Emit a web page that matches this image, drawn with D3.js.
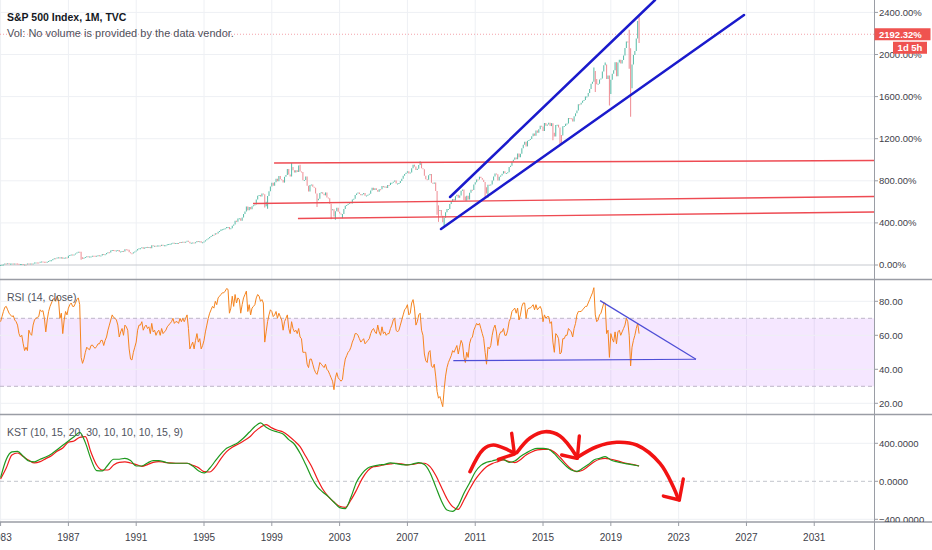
<!DOCTYPE html>
<html lang="en">
<head>
<meta charset="UTF-8">
<title>S&amp;P 500 Index, 1M, TVC</title>
<script src="https://d3js.org/d3.v7.min.js"></script>
<style>
  body { margin: 0; background: #fff; }
  svg { display: block; font-family: "Liberation Sans", Arial, sans-serif; }
  .tick-label { font-size: 9.5px; fill: #3e414a; }
  .time-label { font-size: 10px; fill: #3e414a; }
  .pane-title { font-size: 10.5px; fill: #50535e; }
</style>
</head>
<body>
<div id="chart"></div>
<script>
// ---- data ----
const yearTicks = [1983, 1987, 1991, 1995, 1999, 2003, 2007, 2011, 2015, 2019, 2023, 2027, 2031];
const priceTicks = [0, 400, 800, 1200, 1600, 2000, 2400];
const rsiTicks = [20, 40, 60, 80];
const kstTicks = [-400, 0, 400];

const firstOpen = 140.6;     // open of the first monthly bar
const baseClose = 145.3;     // close the % scale is measured from
const lastChange = 2192.32;  // last value shown on the scale

// monthly closes, Jan 1983 .. Sep 2020
const closes = [
  145.3, 148.1, 153.0, 164.4, 162.4, 168.1, 162.6, 164.4, 166.1, 163.6, 166.4, 164.9,
  163.4, 157.1, 159.2, 160.1, 150.6, 153.2, 150.7, 166.7, 166.1, 166.1, 163.6, 167.2,
  179.6, 181.2, 180.7, 179.8, 189.6, 191.9, 190.9, 188.6, 182.1, 189.8, 202.2, 211.3,
  211.8, 226.9, 238.9, 235.5, 247.4, 250.8, 236.1, 252.9, 231.3, 244.0, 249.2, 242.2,
  274.1, 284.2, 291.7, 288.4, 290.1, 304.0, 318.7, 329.8, 321.8, 251.8, 230.3, 247.1,
  257.1, 267.8, 258.9, 261.3, 262.2, 273.5, 272.0, 261.5, 271.9, 279.0, 273.7, 277.7,
  297.5, 288.9, 294.9, 309.6, 320.5, 318.0, 346.1, 351.5, 349.2, 340.4, 346.0, 353.4,
  329.1, 331.9, 339.9, 330.8, 361.2, 358.0, 356.2, 322.6, 306.1, 304.0, 322.2, 330.2,
  343.9, 367.1, 375.2, 375.3, 389.8, 371.2, 387.8, 395.4, 387.9, 392.5, 375.2, 417.1,
  408.8, 412.7, 403.7, 415.0, 415.4, 408.1, 424.2, 414.0, 417.8, 418.7, 431.4, 435.7,
  438.8, 443.4, 451.7, 440.2, 450.2, 450.5, 448.1, 463.6, 458.9, 467.8, 461.8, 466.5,
  481.6, 467.1, 445.8, 450.9, 456.5, 444.3, 458.3, 475.5, 462.7, 472.4, 453.7, 459.3,
  470.4, 487.4, 500.7, 514.7, 533.4, 544.8, 562.1, 561.9, 584.4, 581.5, 605.4, 615.9,
  636.0, 640.4, 645.5, 654.2, 669.1, 670.6, 640.0, 652.0, 687.3, 705.3, 757.0, 740.7,
  786.2, 790.8, 757.1, 801.3, 848.3, 885.1, 954.3, 899.5, 947.3, 914.6, 955.4, 970.4,
  980.3, 1049.3, 1101.8, 1111.8, 1090.8, 1133.8, 1120.7, 957.3, 1017.0, 1098.7, 1163.6, 1229.2,
  1279.6, 1238.3, 1286.4, 1335.2, 1301.8, 1372.7, 1328.7, 1320.4, 1282.7, 1362.9, 1388.9, 1469.3,
  1394.5, 1366.4, 1498.6, 1452.4, 1420.6, 1454.6, 1430.8, 1517.7, 1436.5, 1429.4, 1315.2, 1320.3,
  1366.0, 1239.9, 1160.3, 1249.5, 1256.0, 1224.4, 1211.2, 1133.6, 1040.9, 1059.8, 1139.5, 1148.1,
  1130.2, 1106.7, 1147.4, 1076.9, 1067.1, 989.8, 911.6, 916.1, 815.3, 885.8, 936.3, 879.8,
  855.7, 841.2, 848.2, 916.9, 963.6, 974.5, 990.3, 1008.0, 996.0, 1050.7, 1058.2, 1111.9,
  1131.1, 1144.9, 1126.2, 1107.3, 1120.7, 1140.8, 1101.7, 1104.2, 1114.6, 1130.2, 1173.8, 1211.9,
  1181.3, 1203.6, 1180.6, 1156.9, 1191.5, 1191.3, 1234.2, 1220.3, 1228.8, 1207.0, 1249.5, 1248.3,
  1280.1, 1280.7, 1294.9, 1310.6, 1270.1, 1270.2, 1276.7, 1303.8, 1335.9, 1377.9, 1400.6, 1418.3,
  1438.2, 1406.8, 1420.9, 1482.4, 1530.6, 1503.4, 1455.3, 1474.0, 1526.8, 1549.4, 1481.1, 1468.4,
  1378.6, 1330.6, 1322.7, 1385.6, 1400.4, 1280.0, 1267.4, 1282.8, 1166.4, 968.8, 896.2, 903.3,
  825.9, 735.1, 797.9, 872.8, 919.1, 919.3, 987.5, 1020.6, 1057.1, 1036.2, 1095.6, 1115.1,
  1073.9, 1104.5, 1169.4, 1186.7, 1089.4, 1030.7, 1101.6, 1049.3, 1141.2, 1183.3, 1180.6, 1257.6,
  1286.1, 1327.2, 1325.8, 1363.6, 1345.2, 1320.6, 1292.3, 1218.9, 1131.4, 1253.3, 1247.0, 1257.6,
  1312.4, 1365.7, 1408.5, 1397.9, 1310.3, 1362.2, 1379.3, 1406.6, 1440.7, 1412.2, 1416.2, 1426.2,
  1498.1, 1514.7, 1569.2, 1597.6, 1630.7, 1606.3, 1685.7, 1633.0, 1681.6, 1756.5, 1805.8, 1848.4,
  1782.6, 1859.5, 1872.3, 1884.0, 1923.6, 1960.2, 1930.7, 2003.4, 1972.3, 2018.1, 2067.6, 2058.9,
  1995.0, 2104.5, 2067.9, 2085.5, 2107.4, 2063.1, 2103.8, 1972.2, 1920.0, 2079.4, 2080.4, 2043.9,
  1940.2, 1932.2, 2059.7, 2065.3, 2097.0, 2098.9, 2173.6, 2171.0, 2168.3, 2126.2, 2198.8, 2238.8,
  2278.9, 2363.6, 2362.7, 2384.2, 2411.8, 2423.4, 2470.3, 2471.7, 2519.4, 2575.3, 2647.6, 2673.6,
  2823.8, 2713.8, 2640.9, 2648.1, 2705.3, 2718.4, 2816.3, 2901.5, 2914.0, 2711.7, 2760.2, 2506.9,
  2704.1, 2784.5, 2834.4, 2945.8, 2752.1, 2941.8, 2980.4, 2926.5, 2976.7, 3037.6, 3141.0, 3230.8,
  3225.5, 2954.2, 2584.6, 2912.4, 3044.3, 3100.3, 3271.1, 3500.3, 3330.7
];

// the few long wicks that show at this scale: [year, month, value]
const wickHighs = [
  [1987, 10, 328.0], [2000, 3, 1552.9], [2000, 9, 1530.1], [2007, 10, 1576.1],
  [2018, 1, 2872.9], [2018, 9, 2940.9], [2020, 2, 3393.5], [2020, 3, 3136.7],
  [2020, 8, 3514.8], [2020, 9, 3588.1]
];
const wickLows = [
  [1987, 10, 216.5], [1998, 8, 939.0], [1998, 10, 923.3], [2001, 9, 944.8],
  [2002, 7, 775.7], [2002, 10, 768.6], [2003, 3, 789.0], [2008, 10, 839.8],
  [2008, 11, 741.0], [2009, 3, 666.8], [2010, 5, 1040.8], [2011, 8, 1074.8],
  [2011, 10, 1074.8], [2015, 8, 1867.0], [2016, 1, 1812.3], [2016, 2, 1810.1],
  [2018, 2, 2532.7], [2018, 12, 2346.6], [2019, 5, 2750.5], [2020, 2, 2855.8],
  [2020, 3, 2191.9], [2020, 9, 3209.5]
];

// RSI (14, close), monthly, Jan 1983 .. Sep 2020
const rsi = [
  68, 71, 74, 76.5, 77, 75, 73, 72, 71, 71.5, 69, 68,
  66, 61, 59, 60, 55, 51, 53, 51, 63, 61, 60, 66,
  69, 70, 70.5, 71, 75, 74, 74.5, 70, 62, 69, 74, 77,
  79, 81, 82, 80, 83, 81, 70, 73, 61, 69, 74, 72,
  76, 78, 79, 77, 77, 79, 81, 82, 78, 47, 43.5, 46,
  50, 53, 52, 51.5, 54, 54.3, 53, 52.4, 53.5, 55, 55, 57,
  57, 54, 57, 59, 63, 66, 69, 72, 70.5, 70, 69, 66,
  59, 62, 64, 60, 66, 65, 63, 52, 46, 45.5, 50, 53,
  56, 63, 66, 66, 68, 63, 65, 66, 64, 65, 61, 67,
  62, 63, 60, 62, 63, 60, 64, 61, 62, 63, 65, 66,
  67, 68, 70, 67, 68, 68, 67, 70, 68, 70, 68, 70,
  72, 64, 52, 54, 56, 52, 57, 61, 56, 58, 52, 54,
  57, 62, 66, 70, 73, 75, 77, 76, 80, 78, 82, 83,
  84, 85, 85, 86, 87.5, 87, 73, 76, 83, 77, 84, 79,
  82, 81, 73, 78, 82, 84, 86, 74, 78, 72, 76, 77,
  78, 82, 84, 83, 80, 81, 79, 56, 62, 68, 72, 75,
  74, 71, 72, 74, 70, 73, 71, 69, 63, 68, 70, 72,
  64, 61, 68, 64, 62, 63, 61, 64, 59, 58, 50, 50,
  50, 43, 41, 46, 46, 43, 40, 38, 37, 40, 44, 43,
  42, 41, 43, 40, 39, 37, 35, 33, 28, 35, 38, 35,
  34, 33, 34, 41, 46, 48, 50, 51, 53, 56, 58, 61,
  61, 60, 58, 56, 57, 58, 55, 56, 57, 58, 61, 63,
  64, 62, 61, 66, 62, 60, 65, 61, 62, 60, 61, 61,
  64, 66, 69, 70, 63, 62, 63, 66, 69, 72, 75, 76,
  78, 72, 73, 79, 81, 76, 66, 68, 72, 73, 63, 60,
  49, 45, 44, 50, 51, 42, 41, 43, 36, 27, 23, 24,
  21, 18, 28, 36, 41, 44, 46, 48, 51, 50, 52, 54,
  49, 53, 57, 55, 47, 44, 50, 47, 55, 58, 59, 63,
  65, 67, 66, 67, 64, 61, 58, 50, 43, 53, 52, 54,
  60, 64, 66, 62, 54, 60, 62, 62, 64, 60, 60, 63,
  68, 70, 74, 75, 76, 73, 76, 69, 72, 77, 79, 79,
  70, 75, 76, 76, 77, 78, 75, 78, 75, 76, 77, 75,
  68, 72, 70, 71, 71, 67, 68, 56, 50, 61, 60, 58,
  49, 50, 58, 58, 60, 60, 64, 63, 62, 59, 64, 67,
  72, 74, 74, 74, 75, 76, 77, 77, 79, 81, 83, 85,
  88, 72, 68, 69, 72, 73, 76, 79, 79, 61, 63, 47,
  61, 58, 56, 62, 55, 62, 63, 60, 62, 64, 66, 70,
  68, 60, 42, 53, 57, 60, 64, 67, 61
];

// KST and its signal, read every 4 months (Jan, May, Sep) from Jan 1983
const kstStep = 4;
const kst = [
  39, 230, 309, 316, 263, 214, 205, 232, 256, 288,
  333, 379, 425, 470, 516, 407, 232, 112, 109, 172,
  232, 232, 242, 218, 161, 161, 193, 218, 218, 204,
  190, 190, 190, 190, 161, 112, 88, 137, 214, 288,
  347, 376, 407, 456, 516, 576, 614, 569, 537, 519,
  498, 439, 390, 295, 176, 46, -53, -112, -161, -221,
  -277, -288, -168, -7, 84, 140, 161, 172, 179, 193,
  186, 176, 172, 183, 197, 176, 91, -56, -204, -302,
  -316, -256, -126, -18, 98, 168, 200, 214, 228, 228,
  200, 214, 260, 298, 330, 347, 347, 337, 291, 225,
  165, 119, 105, 137, 176, 225, 242, 260, 225, 207,
  193, 183, 172, 161
];
const kstSignal = [
  25, 140, 277, 298, 260, 221, 193, 207, 239, 270,
  316, 351, 411, 425, 463, 470, 305, 172, 119, 119,
  172, 200, 204, 193, 176, 158, 176, 200, 207, 200,
  193, 190, 190, 190, 168, 144, 102, 98, 151, 239,
  312, 358, 390, 425, 463, 523, 569, 597, 562, 537,
  519, 477, 425, 365, 263, 161, 32, -81, -161, -218,
  -263, -274, -197, -91, 28, 112, 154, 161, 176, 183,
  190, 183, 172, 179, 190, 190, 154, 63, -60, -183,
  -267, -295, -197, -84, 18, 95, 154, 186, 207, 225,
  207, 197, 228, 277, 309, 330, 337, 337, 309, 253,
  186, 130, 102, 116, 158, 204, 232, 242, 232, 218,
  200, 186, 176, 161
];

// drawings, as [bar index, value] pairs
const redLevels = [
  [[193.6, 969], [620, 993]],
  [[178.7, 584], [620, 651]],
  [[210.5, 442], [620, 504]]
];
const channelLines = [
  [[318.2, 646], [463.3, 2518]],
  [[311.8, 342], [526.3, 2375]]
];
const rsiTrendLines = [
  [[320.5, 45.1], [492.3, 45.9]],
  [[424.4, 80.4], [492.3, 45.9]]
];
const kstArcs = [
  [[332.3, 101], [341.7, 337], [348.8, 382], [359.4, 329], [364.2, 295]],
  [[365.4, 301], [374.8, 456], [385.4, 522], [396, 477], [407.9, 259]],
  [[409, 259], [422, 364], [436.2, 411], [450.3, 382], [466.8, 189], [476.2, -57], [479.8, -189]]
];
const kstHeads = [
  [[361.8, 505], [363.7, 295]], [[352.4, 232], [363.7, 287]],
  [[409.7, 477], [408.3, 242]], [[397.2, 277], [407.9, 242]],
  [[483.3, 24], [480.5, -197]], [[469.2, -155], [480.5, -197]]
];

// ---- layout ----
const width = 932, height = 550;
const plotW = 874;
const pane = {
  main: [0, 279],
  rsi: [280, 414],
  kst: [415, 522]
};
const timeAxisY = 522;

const x = d3.scaleLinear().domain([-0.42, 618.3]).range([0, plotW]);
const yMain = d3.scaleLinear().domain([0, 2400]).range([265, 12.4]);
const yRsi = d3.scaleLinear().domain([20, 80]).range([403.3, 301.3]);
const yKst = d3.scaleLinear().domain([-400, 400]).range([519.3, 443.3]);

const pct = v => (v / baseClose - 1) * 100;
const monthIdx = (y, m) => (y - 1983) * 12 + (m - 1);

const svg = d3.select("#chart").append("svg")
  .attr("width", width)
  .attr("height", height);

const defs = svg.append("defs");
Object.entries(pane).forEach(([k, [t, b]]) => {
  defs.append("clipPath").attr("id", "clip-" + k)
    .append("rect").attr("x", 0).attr("y", t).attr("width", plotW).attr("height", b - t);
  defs.append("clipPath").attr("id", "clipax-" + k)
    .append("rect").attr("x", plotW).attr("y", t).attr("width", width - plotW).attr("height", b - t);
});

const gridColor = "#eef0f4";

// vertical grid through all panes
svg.append("g").selectAll("line")
  .data(yearTicks)
  .join("line")
  .attr("x1", d => x(monthIdx(d, 1))).attr("x2", d => x(monthIdx(d, 1)))
  .attr("y1", 0).attr("y2", timeAxisY)
  .attr("stroke", gridColor);

// ---- main pane ----
const gMain = svg.append("g").attr("clip-path", "url(#clip-main)");
gMain.selectAll("line.grid")
  .data(priceTicks)
  .join("line")
  .attr("class", "grid")
  .attr("x1", 0).attr("x2", plotW)
  .attr("y1", d => yMain(d)).attr("y2", d => yMain(d))
  .attr("stroke", d => d === 0 ? "#c6c9cf" : gridColor);

const highMap = new Map(wickHighs.map(d => [monthIdx(d[0], d[1]), d[2]]));
const lowMap = new Map(wickLows.map(d => [monthIdx(d[0], d[1]), d[2]]));
const candles = closes.map((c, i) => {
  const o = i === 0 ? firstOpen : closes[i - 1];
  return {
    i, o, c,
    h: highMap.has(i) ? highMap.get(i) : Math.max(o, c),
    l: lowMap.has(i) ? lowMap.get(i) : Math.min(o, c)
  };
});

gMain.append("g").selectAll("line")
  .data(candles)
  .join("line")
  .attr("x1", d => x(d.i)).attr("x2", d => x(d.i))
  .attr("y1", d => yMain(pct(d.h)))
  .attr("y2", d => Math.max(yMain(pct(d.l)), yMain(pct(d.h)) + 1))
  .attr("stroke", d => d.c >= d.o ? "#5cbeaa" : "#ef9097")
  .attr("stroke-width", 1.05);

// last price dotted line
gMain.append("line")
  .attr("x1", 0).attr("x2", plotW)
  .attr("y1", yMain(lastChange)).attr("y2", yMain(lastChange))
  .attr("stroke", "#f4a3ab")
  .attr("stroke-dasharray", "1,2");

const lineMain = d3.line().x(d => x(d[0])).y(d => yMain(d[1]));
gMain.selectAll("path.level")
  .data(redLevels)
  .join("path")
  .attr("class", "level")
  .attr("d", lineMain)
  .attr("fill", "none")
  .attr("stroke", "#ee4b53")
  .attr("stroke-width", 1.4);

gMain.selectAll("path.channel")
  .data(channelLines)
  .join("path")
  .attr("class", "channel")
  .attr("d", lineMain)
  .attr("fill", "none")
  .attr("stroke", "#1a1acc")
  .attr("stroke-width", 2.5)
  .attr("stroke-linecap", "round");

svg.append("text")
  .attr("x", 7).attr("y", 21)
  .attr("font-size", 10.5).attr("font-weight", "bold")
  .attr("fill", "#131722")
  .text("S&P 500 Index, 1M, TVC");
svg.append("text")
  .attr("x", 7).attr("y", 37)
  .attr("font-size", 11)
  .attr("fill", "#50535e")
  .text("Vol: No volume is provided by the data vendor.");

// ---- RSI pane ----
const gRsi = svg.append("g").attr("clip-path", "url(#clip-rsi)");
gRsi.append("rect")
  .attr("x", 0).attr("width", plotW)
  .attr("y", yRsi(70)).attr("height", yRsi(30) - yRsi(70))
  .attr("fill", "rgba(153, 21, 255, 0.1)");
gRsi.selectAll("line.grid")
  .data(rsiTicks)
  .join("line")
  .attr("class", "grid")
  .attr("x1", 0).attr("x2", plotW)
  .attr("y1", d => yRsi(d)).attr("y2", d => yRsi(d))
  .attr("stroke", gridColor);
gRsi.selectAll("line.band")
  .data([70, 30])
  .join("line")
  .attr("class", "band")
  .attr("x1", 0).attr("x2", plotW)
  .attr("y1", d => yRsi(d)).attr("y2", d => yRsi(d))
  .attr("stroke", "#bdb6c9")
  .attr("stroke-dasharray", "4,3");

gRsi.append("path")
  .datum(rsi)
  .attr("d", d3.line().x((d, i) => x(i)).y(d => yRsi(d)))
  .attr("fill", "none")
  .attr("stroke", "#f5841f")
  .attr("stroke-width", 1);

gRsi.selectAll("path.trend")
  .data(rsiTrendLines)
  .join("path")
  .attr("class", "trend")
  .attr("d", d3.line().x(d => x(d[0])).y(d => yRsi(d[1])))
  .attr("fill", "none")
  .attr("stroke", "#4e4ed6")
  .attr("stroke-width", 1.2);

svg.append("text")
  .attr("x", 7).attr("y", 301)
  .attr("class", "pane-title")
  .text("RSI (14, close)");

// ---- KST pane ----
const gKst = svg.append("g").attr("clip-path", "url(#clip-kst)");
gKst.selectAll("line.grid")
  .data(kstTicks.filter(d => d !== 0))
  .join("line")
  .attr("class", "grid")
  .attr("x1", 0).attr("x2", plotW)
  .attr("y1", d => yKst(d)).attr("y2", d => yKst(d))
  .attr("stroke", gridColor);
gKst.append("line")
  .attr("x1", 0).attr("x2", plotW)
  .attr("y1", yKst(0)).attr("y2", yKst(0))
  .attr("stroke", "#c2c5cc")
  .attr("stroke-dasharray", "4,3");

const kstLine = d3.line()
  .x((d, i) => x(i * kstStep))
  .y(d => yKst(d))
  .curve(d3.curveMonotoneX);
gKst.append("path").datum(kstSignal)
  .attr("d", kstLine)
  .attr("fill", "none")
  .attr("stroke", "#f01c1c")
  .attr("stroke-width", 1.2);
gKst.append("path").datum(kst)
  .attr("d", kstLine)
  .attr("fill", "none")
  .attr("stroke", "#1f991f")
  .attr("stroke-width", 1.2);

gKst.selectAll("path.arc")
  .data(kstArcs)
  .join("path")
  .attr("class", "arc")
  .attr("d", d3.line().x(d => x(d[0])).y(d => yKst(d[1])).curve(d3.curveCatmullRom.alpha(0.5)))
  .attr("fill", "none")
  .attr("stroke", "#f21313")
  .attr("stroke-width", 3.6)
  .attr("stroke-linecap", "round");
gKst.selectAll("path.head")
  .data(kstHeads)
  .join("path")
  .attr("class", "head")
  .attr("d", d3.line().x(d => x(d[0])).y(d => yKst(d[1])))
  .attr("fill", "none")
  .attr("stroke", "#f21313")
  .attr("stroke-width", 3.4)
  .attr("stroke-linecap", "round");

svg.append("text")
  .attr("x", 7).attr("y", 436)
  .attr("class", "pane-title")
  .text("KST (10, 15, 20, 30, 10, 10, 10, 15, 9)");

// ---- pane borders and price axis ----
const borderColor = "#9a9da5";
svg.append("g").selectAll("line")
  .data([279.5, 414.5, timeAxisY])
  .join("line")
  .attr("x1", 0).attr("x2", width)
  .attr("y1", d => d).attr("y2", d => d)
  .attr("stroke", borderColor)
  .attr("stroke-width", 1.5);
svg.append("line")
  .attr("x1", plotW + 0.5).attr("x2", plotW + 0.5)
  .attr("y1", 0).attr("y2", height)
  .attr("stroke", borderColor);

function priceAxis(key, scale, ticks, fmt) {
  const g = svg.append("g").attr("clip-path", "url(#clipax-" + key + ")");
  g.selectAll("line")
    .data(ticks)
    .join("line")
    .attr("x1", plotW).attr("x2", plotW + 4)
    .attr("y1", d => scale(d)).attr("y2", d => scale(d))
    .attr("stroke", borderColor);
  g.selectAll("text")
    .data(ticks)
    .join("text")
    .attr("class", "tick-label")
    .attr("x", plotW + 5)
    .attr("y", d => scale(d))
    .attr("dy", "0.35em")
    .text(fmt);
}
priceAxis("main", yMain, priceTicks, d => d.toFixed(2) + "%");
priceAxis("rsi", yRsi, rsiTicks, d => d.toFixed(2));
priceAxis("kst", yKst, kstTicks, d => (d < 0 ? "\u2212" : "") + Math.abs(d).toFixed(4));

// last value badges
const yLast = yMain(lastChange);
svg.append("rect")
  .attr("x", plotW + 0.5).attr("y", yLast - 6)
  .attr("width", 56).attr("height", 12)
  .attr("fill", "#ef5350");
svg.append("text")
  .attr("x", plotW + 5).attr("y", yLast)
  .attr("dy", "0.35em")
  .attr("font-size", 9.5).attr("font-weight", "bold")
  .attr("fill", "#fff")
  .text(lastChange.toFixed(2) + "%");
svg.append("rect")
  .attr("x", 893).attr("y", yLast + 7.5)
  .attr("width", 34).attr("height", 12)
  .attr("fill", "#ef5350");
svg.append("text")
  .attr("x", 910).attr("y", yLast + 13.5)
  .attr("dy", "0.35em")
  .attr("text-anchor", "middle")
  .attr("font-size", 9.5).attr("font-weight", "bold")
  .attr("fill", "#fff")
  .text("1d 5h");

// ---- time axis ----
const gTime = svg.append("g");
gTime.selectAll("line")
  .data(yearTicks)
  .join("line")
  .attr("x1", d => x(monthIdx(d, 1))).attr("x2", d => x(monthIdx(d, 1)))
  .attr("y1", timeAxisY).attr("y2", timeAxisY + 4)
  .attr("stroke", borderColor);
gTime.selectAll("text")
  .data(yearTicks)
  .join("text")
  .attr("class", "time-label")
  .attr("x", d => x(monthIdx(d, 1)))
  .attr("y", 541)
  .attr("text-anchor", "middle")
  .text(d => d);
</script>
</body>
</html>
